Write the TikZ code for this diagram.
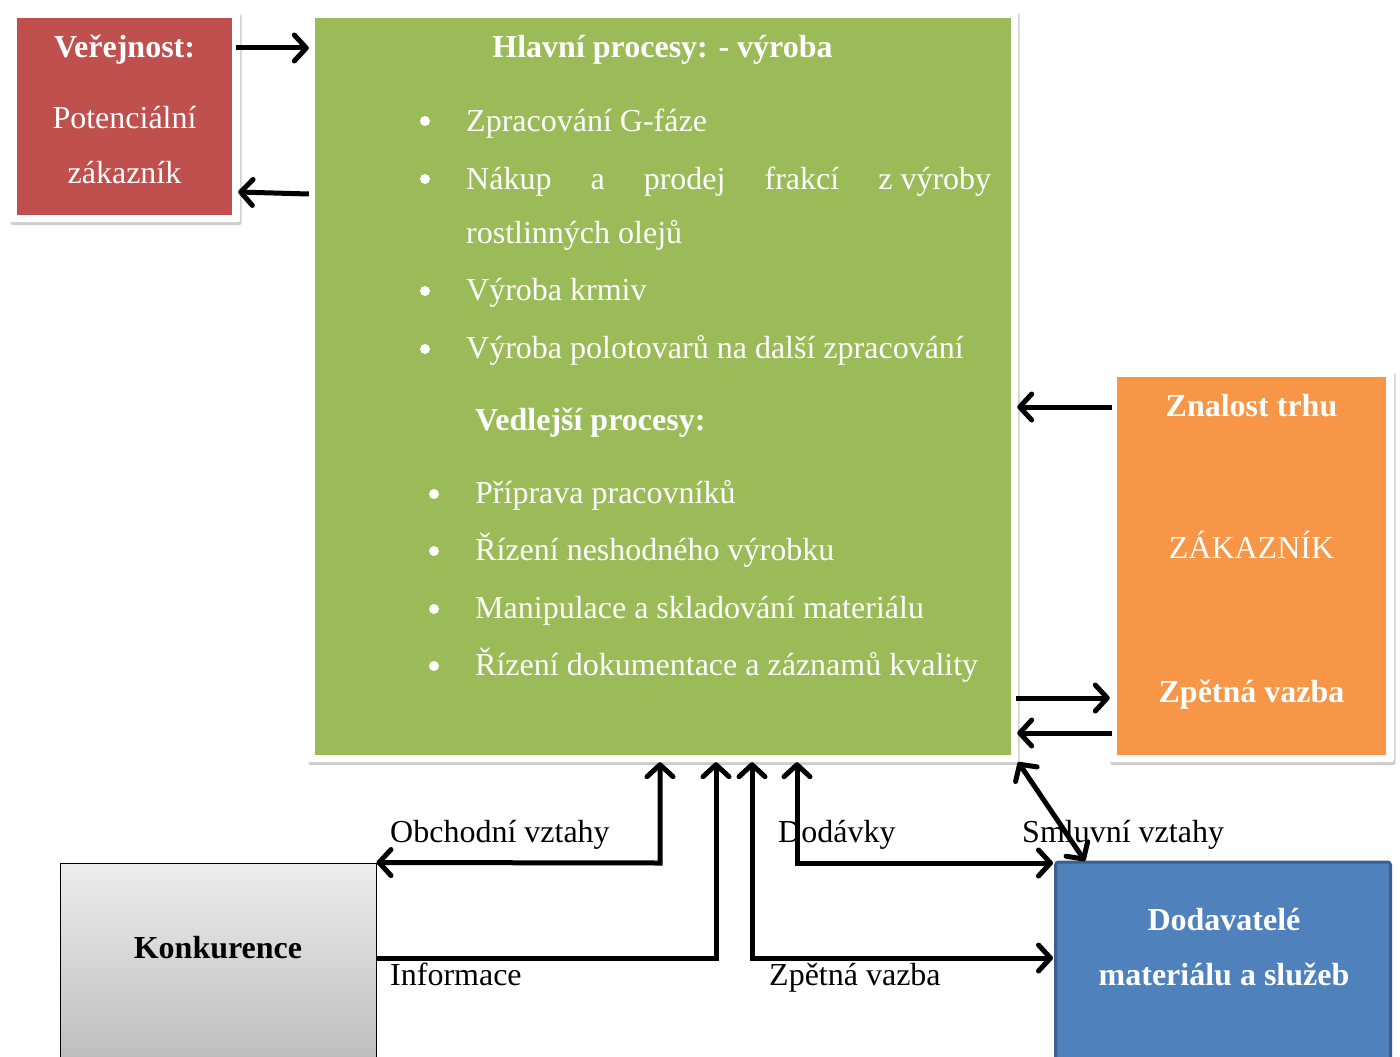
\documentclass[tikz,border=0pt]{standalone}
\usepackage{fontspec}
\setmainfont{Liberation Serif}
\usetikzlibrary{arrows.meta,shadows}
\definecolor{cred}{HTML}{C0504D}
\definecolor{cgreen}{HTML}{9BBB59}
\definecolor{corange}{HTML}{F79646}
\definecolor{cblue}{HTML}{4F81BD}
\definecolor{cblueb}{HTML}{3A5F8E}
\definecolor{ctop}{HTML}{EDEDED}
\definecolor{cbot}{HTML}{BBBBBB}
\begin{document}
\begin{tikzpicture}[x=1pt,y=-1pt,
  every node/.style={font=\fontsize{32}{38}\selectfont, inner sep=0pt},
  frame/.style={fill=white, rounded corners=2pt,
    drop shadow={shadow xshift=1.5pt, shadow yshift=-3pt, opacity=0.28, fill=black!70}},
  boxfill/.style={draw=none},
  wtext/.style={text=white},
  wbold/.style={text=white, font=\fontsize{32}{38}\selectfont\bfseries},
  btext/.style={text=black},
  bul/.style={circle, fill=white, minimum size=10pt},
  conn/.style={line width=5pt, draw=black, >={Straight Barb[length=12pt,width=26pt,round]}}
]
\useasboundingbox (0,0) rectangle (1400,1057);
\fill[white] (0,0) rectangle (1400,1057);

% frames
\node[frame, minimum width=231pt, minimum height=211pt] (redf) at (124.5,116.5) {};
\node[frame, minimum width=711pt, minimum height=752pt] (greenf) at (662.5,386) {};
\node[frame, minimum width=285pt, minimum height=392pt] (orangef) at (1251.5,566) {};

% fills
\node[boxfill, fill=cred, minimum width=215pt, minimum height=197pt] (red) at (124.5,116.5) {};
\node[boxfill, fill=cgreen, minimum width=696pt, minimum height=737pt] (green) at (663,386.5) {};
\node[boxfill, fill=corange, minimum width=269pt, minimum height=378pt] (orange) at (1251.5,566) {};
\node[draw=black, line width=1pt, top color=ctop, bottom color=cbot, minimum width=316pt, minimum height=207pt] (konk) at (218,966.5) {};
\node[draw=cblueb, line width=3pt, fill=cblue, rounded corners=3pt, minimum width=335pt, minimum height=208pt] (blue) at (1223,966) {};

% red box texts
\node[wbold, anchor=base] (t1) at (124.5,58) {Veřejnost:};
\node[wtext, anchor=base] (t2) at (124.5,128) {Potenciální};
\node[wtext, anchor=base] (t3) at (124.5,183) {zákazník};

% green box texts
\node[wbold, anchor=base] (g0) at (662.5,58) {Hlavní procesy: - výroba};
\node[bul] (b1) at (425,121) {};
\node[bul] (b2) at (425,179) {};
\node[bul] (b3) at (425,291) {};
\node[bul] (b4) at (425,349) {};
\node[wtext, anchor=base west] (g1) at (466,131) {Zpracování G-fáze};
\node[wtext, anchor=base west] (g2) at (466,189) {\hbox to 525pt{Nákup\hfill a\hfill prodej\hfill frakcí\hfill z~výroby}};
\node[wtext, anchor=base west] (g3) at (466,243) {rostlinných olejů};
\node[wtext, anchor=base west] (g4) at (466,300) {Výroba krmiv};
\node[wtext, anchor=base west] (g5) at (466,358) {Výroba polotovarů na další zpracování};
\node[wbold, anchor=base west] (v0) at (475,430) {Vedlejší procesy:};
\node[bul] (b5) at (434,494) {};
\node[bul] (b6) at (434,551) {};
\node[bul] (b7) at (434,609) {};
\node[bul] (b8) at (434,666) {};
\node[wtext, anchor=base west] (v1) at (475,503) {Příprava pracovníků};
\node[wtext, anchor=base west] (v2) at (475,560) {Řízení neshodného výrobku};
\node[wtext, anchor=base west] (v3) at (475,618) {Manipulace a skladování materiálu};
\node[wtext, anchor=base west] (v4) at (475,675) {Řízení dokumentace a záznamů kvality};

% orange texts
\node[wbold, anchor=base] (o1) at (1251.5,416) {Znalost trhu};
\node[wtext, anchor=base] (o2) at (1251.5,558) {ZÁKAZNÍK};
\node[wbold, anchor=base] (o3) at (1251.5,702) {Zpětná vazba};

% bottom boxes texts
\node[btext, font=\fontsize{32}{38}\selectfont\bfseries, anchor=base] (k1) at (218,958) {Konkurence};
\node[wbold, anchor=base] (d1) at (1224,930) {Dodavatelé};
\node[wbold, anchor=base] (d2) at (1224,985) {materiálu a služeb};

% labels
\node[btext, anchor=base west] (l1) at (390,842) {Obchodní vztahy};
\node[btext, anchor=base west] (l2) at (778,842) {Dodávky};
\node[btext, anchor=base west] (l3) at (1022,842) {Smluvní vztahy};
\node[btext, anchor=base west] (l4) at (390,985) {Informace};
\node[btext, anchor=base west] (l5) at (769,985) {Zpětná vazba};

% coordinates for connector ends
\coordinate (c1) at (716,958);
\coordinate (c2) at (752,958);
\coordinate (c3) at (797,863);
\coordinate (c4) at (660,863);

% connectors
\draw[conn,->] ([xshift=-4pt]redf.east |- 0,48) -- ([xshift=2pt]greenf.west |- 0,48);
\draw[conn,->] ([xshift=2pt]greenf.west |- 0,194) -- ([xshift=-2pt]redf.east |- 0,192);
\draw[conn,->] ([xshift=3pt]orangef.west |- 0,407) -- ([xshift=-1pt]greenf.east |- 0,407);
\draw[conn,->] ([xshift=-2pt]greenf.east |- 0,698) -- ([xshift=1pt]orangef.west |- 0,698);
\draw[conn,->] ([xshift=3pt]orangef.west |- 0,733) -- ([xshift=-1pt]greenf.east |- 0,733);
\draw[conn,<->] (greenf.south east) -- (1085,861);
\draw[conn,<->] (konk.north east) -- (c4) -- (c4 |- greenf.south);
\draw[conn,->] (konk.east |- c1) -- (c1) -- (c1 |- greenf.south);
\draw[conn,<->] (c2 |- greenf.south) -- (c2) -- ([xshift=-1pt]blue.west |- c2);
\draw[conn,<->] (c3 |- greenf.south) -- (c3) -- ([xshift=-1pt]blue.west |- c3);
\end{tikzpicture}
\end{document}
